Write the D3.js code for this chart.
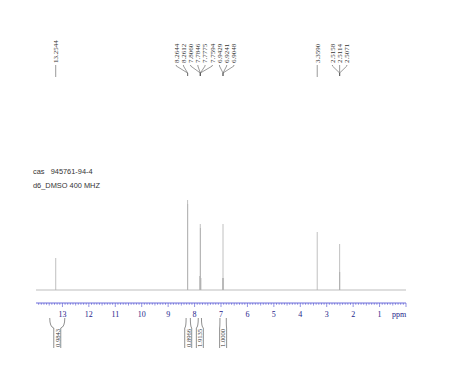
<!DOCTYPE html>
<html>
<head>
<meta charset="utf-8">
<script src="https://cdn.jsdelivr.net/npm/d3@7"></script>
<style>
  body { margin: 0; background: #fff; }
  svg { display: block; }
</style>
</head>
<body>
<div id="chart"></div>
<script>
// peak list (ppm) and heights (arbitrary intensity units)
const peakPpm = [13.2544, 8.2644, 8.2612, 7.8060, 7.7846, 7.7775, 7.7594, 6.9429, 6.9241, 6.9048, 3.3590, 2.5158, 2.5114, 2.5071];
const peakHeight = [32, 90, 86, 14, 66, 62, 12, 12, 66, 12, 58, 18, 46, 18];

// multiplets: labels of one multiplet meet in one leader point
const multiplets = [
  [13.2544],
  [8.2644, 8.2612],
  [7.8060, 7.7846, 7.7775, 7.7594],
  [6.9429, 6.9241, 6.9048],
  [3.3590],
  [2.5158, 2.5114, 2.5071]
];
// clusters of labels that are spread side by side
const labelClusters = [
  [13.2544],
  [8.2644, 8.2612, 7.8060, 7.7846, 7.7775, 7.7594, 6.9429, 6.9241, 6.9048],
  [3.3590],
  [2.5158, 2.5114, 2.5071]
];

// integrals: ppm range and value
const intFrom = [13.48, 8.32, 7.86, 7.04];
const intTo = [12.91, 8.16, 7.74, 6.80];
const intValue = ["0.9843", "0.8966", "1.9135", "1.0000"];

const axisTicks = [13, 12, 11, 10, 9, 8, 7, 6, 5, 4, 3, 2, 1];
const infoLines = ["cas   945761-94-4", "d6_DMSO 400 MHZ"];

const W = 474, H = 377;
const svg = d3.select("#chart").append("svg").attr("width", W).attr("height", H);

const x = d3.scaleLinear().domain([14, 0]).range([36, 406]);
const y = d3.scaleLinear().domain([0, 100]).range([290, 190]);

// baseline + peaks
svg.append("line")
  .attr("x1", x(14)).attr("x2", x(0))
  .attr("y1", y(0)).attr("y2", y(0))
  .attr("stroke", "#bdbdbd").attr("stroke-width", 1);

svg.append("g").selectAll("line")
  .data(peakPpm)
  .join("line")
  .attr("x1", d => x(d)).attr("x2", d => x(d))
  .attr("y1", y(0))
  .attr("y2", (d, i) => y(peakHeight[i]))
  .attr("stroke", "#b0b0b0").attr("stroke-width", 0.8);

// peak labels
const labelX = {};
const spacing = 7.2;
labelClusters.forEach(c => {
  const cx = d3.mean(c, d => x(d));
  c.forEach((d, i) => { labelX[d] = cx + (i - (c.length - 1) / 2) * spacing; });
});

const lab = svg.append("g");
const textBottom = 63;
multiplets.forEach(m => {
  const mx = d3.mean(m, d => x(d));
  m.forEach(d => {
    const lx = labelX[d];
    const pts = m.length === 1
      ? [[lx, textBottom + 2], [lx, 77]]
      : [[lx, textBottom + 2], [lx, 66], [mx, 73], [mx, 76]];
    lab.append("path")
      .attr("d", d3.line()(pts))
      .attr("fill", "none").attr("stroke", "#555").attr("stroke-width", 0.6);
    lab.append("text")
      .attr("transform", `translate(${lx + 2.3},${textBottom}) rotate(-90)`)
      .attr("font-family", "Liberation Serif")
      .attr("font-size", 7)
      .attr("fill", "#333")
      .text(d.toFixed(4));
  });
});

// info text
svg.append("g").selectAll("text")
  .data(infoLines)
  .join("text")
  .attr("x", 33).attr("y", (d, i) => 174 + i * 14)
  .attr("font-family", "Liberation Sans")
  .attr("font-size", 7.4)
  .attr("fill", "#333")
  .attr("xml:space", "preserve")
  .style("white-space", "pre")
  .text(d => d);

// axis
const axisY = 303;
const ax = svg.append("g").attr("transform", `translate(0,${axisY})`);
ax.append("line").attr("x1", x(14)).attr("x2", x(0))
  .attr("stroke", "#4a4ad0").attr("stroke-width", 0.8);
ax.append("g").selectAll("line")
  .data(d3.range(0, 140).map(i => i / 10))
  .join("line")
  .attr("x1", d => x(d)).attr("x2", d => x(d))
  .attr("y1", 0)
  .attr("y2", d => Math.abs(d - Math.round(d)) < 1e-6 ? 4 : (Math.abs(d * 2 - Math.round(d * 2)) < 1e-6 ? 2.5 : 1.8))
  .attr("stroke", "#4a4ad0").attr("stroke-width", 0.6);
ax.append("g").selectAll("text")
  .data(axisTicks)
  .join("text")
  .attr("x", d => x(d)).attr("y", 14)
  .attr("text-anchor", "middle")
  .attr("font-family", "Liberation Serif")
  .attr("font-size", 8)
  .attr("fill", "#1c1c8a")
  .text(d => d);
ax.append("text")
  .attr("x", x(0) - 7).attr("y", 14)
  .attr("text-anchor", "middle")
  .attr("font-family", "Liberation Serif")
  .attr("font-size", 8)
  .attr("fill", "#1c1c8a")
  .text("ppm");

// integrals
const ig = svg.append("g");
intValue.forEach((v, i) => {
  const a = x(intFrom[i]), b = x(intTo[i]);
  const c = (a + b) / 2;
  const half = 3.5;
  const top = 318, knee = 327, bot = 348;
  ig.append("path")
    .attr("d", `M${a},${top} Q${a},${knee} ${c - half},${knee + 1} L${c - half},${bot}`)
    .attr("fill", "none").attr("stroke", "#444").attr("stroke-width", 0.6);
  ig.append("path")
    .attr("d", `M${b},${top} Q${b},${knee} ${c + half},${knee + 1} L${c + half},${bot}`)
    .attr("fill", "none").attr("stroke", "#444").attr("stroke-width", 0.6);
  ig.append("text")
    .attr("transform", `translate(${c + 2.3},${bot - 1}) rotate(-90)`)
    .attr("font-family", "Liberation Serif")
    .attr("font-size", 6.6)
    .attr("fill", "#333")
    .text(v);
});
</script>
</body>
</html>
